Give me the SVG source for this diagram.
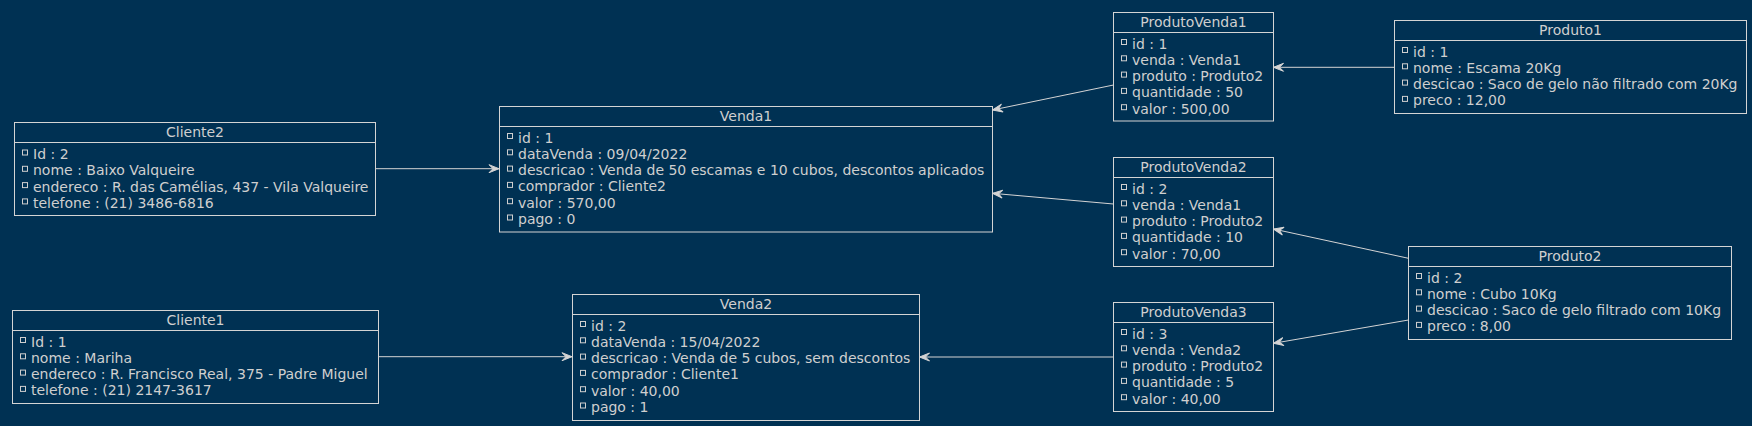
<svg xmlns="http://www.w3.org/2000/svg" width="1752" height="426" viewBox="0 0 1752 426">
<style>
.box{fill:#003153;stroke:#D4D4D4;stroke-width:1}
.sep{stroke:#D4D4D4;stroke-width:1}
.t{font-family:"DejaVu Sans",sans-serif;font-size:14px;fill:#CFCFCF}
.c{text-anchor:middle}
.ic{fill:none;stroke:#CFCFCF;stroke-width:1}
.ln{stroke:#D4D4D4;stroke-width:1;fill:none;marker-end:url(#ah)}
</style>
<defs>
<marker id="ah" markerUnits="userSpaceOnUse" markerWidth="12" markerHeight="10" viewBox="0 0 12 10" refX="11" refY="5" orient="auto">
<polygon points="11,5 1,1 5,5 1,9" fill="#D4D4D4" stroke="#D4D4D4" stroke-width="1"/>
</marker>
</defs>
<rect width="1752" height="426" fill="#003153"/>
<g id="connectors">
<line class="ln" x1="375.5" y1="168.7" x2="499" y2="168.7"/>
<line class="ln" x1="1113.5" y1="85" x2="992.5" y2="110"/>
<line class="ln" x1="1394.5" y1="67.3" x2="1273.5" y2="67.3"/>
<line class="ln" x1="1113.5" y1="204" x2="992.5" y2="193.3"/>
<line class="ln" x1="1408.5" y1="258.3" x2="1273.5" y2="229"/>
<line class="ln" x1="1408.5" y1="320" x2="1273.5" y2="343.3"/>
<line class="ln" x1="1113.5" y1="357" x2="919.5" y2="357"/>
<line class="ln" x1="378.5" y1="356.7" x2="572" y2="356.7"/>
</g>
<g id="Cliente2" transform="translate(14.5,122.5)">
<rect class="box" width="361" height="93"/><line class="sep" x1="0" y1="20" x2="361" y2="20"/>
<text class="t c" x="180.5" y="14.5">Cliente2</text>
<rect class="ic" x="8" y="27.5" width="5" height="5"/><text class="t" x="18.5" y="36.5">Id : 2</text>
<rect class="ic" x="8" y="43.8" width="5" height="5"/><text class="t" x="18.5" y="52.8">nome : Baixo Valqueire</text>
<rect class="ic" x="8" y="60.1" width="5" height="5"/><text class="t" x="18.5" y="69.1">endereco : R. das Camélias, 437 - Vila Valqueire</text>
<rect class="ic" x="8" y="76.4" width="5" height="5"/><text class="t" x="18.5" y="85.4">telefone : (21) 3486-6816</text>
</g>
<g id="Venda1" transform="translate(499.5,106.5)">
<rect class="box" width="493" height="125.5"/><line class="sep" x1="0" y1="20" x2="493" y2="20"/>
<text class="t c" x="246.5" y="14.5">Venda1</text>
<rect class="ic" x="8" y="27" width="5" height="5"/><text class="t" x="18.5" y="36">id : 1</text>
<rect class="ic" x="8" y="43.3" width="5" height="5"/><text class="t" x="18.5" y="52.3">dataVenda : 09/04/2022</text>
<rect class="ic" x="8" y="59.6" width="5" height="5"/><text class="t" x="18.5" y="68.6">descricao : Venda de 50 escamas e 10 cubos, descontos aplicados</text>
<rect class="ic" x="8" y="75.9" width="5" height="5"/><text class="t" x="18.5" y="84.9">comprador : Cliente2</text>
<rect class="ic" x="8" y="92.2" width="5" height="5"/><text class="t" x="18.5" y="101.2">valor : 570,00</text>
<rect class="ic" x="8" y="108.5" width="5" height="5"/><text class="t" x="18.5" y="117.5">pago : 0</text>
</g>
<g id="ProdutoVenda1" transform="translate(1113.5,12.5)">
<rect class="box" width="160" height="108.5"/><line class="sep" x1="0" y1="20" x2="160" y2="20"/>
<text class="t c" x="80" y="14.5">ProdutoVenda1</text>
<rect class="ic" x="8" y="27" width="5" height="5"/><text class="t" x="18.5" y="36">id : 1</text>
<rect class="ic" x="8" y="43.3" width="5" height="5"/><text class="t" x="18.5" y="52.3">venda : Venda1</text>
<rect class="ic" x="8" y="59.6" width="5" height="5"/><text class="t" x="18.5" y="68.6">produto : Produto2</text>
<rect class="ic" x="8" y="75.9" width="5" height="5"/><text class="t" x="18.5" y="84.9">quantidade : 50</text>
<rect class="ic" x="8" y="92.2" width="5" height="5"/><text class="t" x="18.5" y="101.2">valor : 500,00</text>
</g>
<g id="Produto1" transform="translate(1394.5,20.5)">
<rect class="box" width="352" height="93"/><line class="sep" x1="0" y1="20" x2="352" y2="20"/>
<text class="t c" x="176" y="14.5">Produto1</text>
<rect class="ic" x="8" y="27" width="5" height="5"/><text class="t" x="18.5" y="36">id : 1</text>
<rect class="ic" x="8" y="43.3" width="5" height="5"/><text class="t" x="18.5" y="52.3">nome : Escama 20Kg</text>
<rect class="ic" x="8" y="59.6" width="5" height="5"/><text class="t" x="18.5" y="68.6">descicao : Saco de gelo não filtrado com 20Kg</text>
<rect class="ic" x="8" y="75.9" width="5" height="5"/><text class="t" x="18.5" y="84.9">preco : 12,00</text>
</g>
<g id="ProdutoVenda2" transform="translate(1113.5,157.5)">
<rect class="box" width="160" height="109"/><line class="sep" x1="0" y1="20" x2="160" y2="20"/>
<text class="t c" x="80" y="14.5">ProdutoVenda2</text>
<rect class="ic" x="8" y="27" width="5" height="5"/><text class="t" x="18.5" y="36">id : 2</text>
<rect class="ic" x="8" y="43.3" width="5" height="5"/><text class="t" x="18.5" y="52.3">venda : Venda1</text>
<rect class="ic" x="8" y="59.6" width="5" height="5"/><text class="t" x="18.5" y="68.6">produto : Produto2</text>
<rect class="ic" x="8" y="75.9" width="5" height="5"/><text class="t" x="18.5" y="84.9">quantidade : 10</text>
<rect class="ic" x="8" y="92.2" width="5" height="5"/><text class="t" x="18.5" y="101.2">valor : 70,00</text>
</g>
<g id="Produto2" transform="translate(1408.5,246.5)">
<rect class="box" width="323" height="93"/><line class="sep" x1="0" y1="20" x2="323" y2="20"/>
<text class="t c" x="161.5" y="14.5">Produto2</text>
<rect class="ic" x="8" y="27" width="5" height="5"/><text class="t" x="18.5" y="36">id : 2</text>
<rect class="ic" x="8" y="43.3" width="5" height="5"/><text class="t" x="18.5" y="52.3">nome : Cubo 10Kg</text>
<rect class="ic" x="8" y="59.6" width="5" height="5"/><text class="t" x="18.5" y="68.6">descicao : Saco de gelo filtrado com 10Kg</text>
<rect class="ic" x="8" y="75.9" width="5" height="5"/><text class="t" x="18.5" y="84.9">preco : 8,00</text>
</g>
<g id="ProdutoVenda3" transform="translate(1113.5,302.5)">
<rect class="box" width="160" height="109"/><line class="sep" x1="0" y1="20" x2="160" y2="20"/>
<text class="t c" x="80" y="14.5">ProdutoVenda3</text>
<rect class="ic" x="8" y="27" width="5" height="5"/><text class="t" x="18.5" y="36">id : 3</text>
<rect class="ic" x="8" y="43.3" width="5" height="5"/><text class="t" x="18.5" y="52.3">venda : Venda2</text>
<rect class="ic" x="8" y="59.6" width="5" height="5"/><text class="t" x="18.5" y="68.6">produto : Produto2</text>
<rect class="ic" x="8" y="75.9" width="5" height="5"/><text class="t" x="18.5" y="84.9">quantidade : 5</text>
<rect class="ic" x="8" y="92.2" width="5" height="5"/><text class="t" x="18.5" y="101.2">valor : 40,00</text>
</g>
<g id="Cliente1" transform="translate(12.5,310.5)">
<rect class="box" width="366" height="93"/><line class="sep" x1="0" y1="20" x2="366" y2="20"/>
<text class="t c" x="183" y="14.5">Cliente1</text>
<rect class="ic" x="8" y="27" width="5" height="5"/><text class="t" x="18.5" y="36">Id : 1</text>
<rect class="ic" x="8" y="43.3" width="5" height="5"/><text class="t" x="18.5" y="52.3">nome : Mariha</text>
<rect class="ic" x="8" y="59.6" width="5" height="5"/><text class="t" x="18.5" y="68.6">endereco : R. Francisco Real, 375 - Padre Miguel</text>
<rect class="ic" x="8" y="75.9" width="5" height="5"/><text class="t" x="18.5" y="84.9">telefone : (21) 2147-3617</text>
</g>
<g id="Venda2" transform="translate(572.5,294.5)">
<rect class="box" width="347" height="126"/><line class="sep" x1="0" y1="20" x2="347" y2="20"/>
<text class="t c" x="173.5" y="14.5">Venda2</text>
<rect class="ic" x="8" y="27" width="5" height="5"/><text class="t" x="18.5" y="36">id : 2</text>
<rect class="ic" x="8" y="43.3" width="5" height="5"/><text class="t" x="18.5" y="52.3">dataVenda : 15/04/2022</text>
<rect class="ic" x="8" y="59.6" width="5" height="5"/><text class="t" x="18.5" y="68.6">descricao : Venda de 5 cubos, sem descontos</text>
<rect class="ic" x="8" y="75.9" width="5" height="5"/><text class="t" x="18.5" y="84.9">comprador : Cliente1</text>
<rect class="ic" x="8" y="92.2" width="5" height="5"/><text class="t" x="18.5" y="101.2">valor : 40,00</text>
<rect class="ic" x="8" y="108.5" width="5" height="5"/><text class="t" x="18.5" y="117.5">pago : 1</text>
</g>
</svg>
